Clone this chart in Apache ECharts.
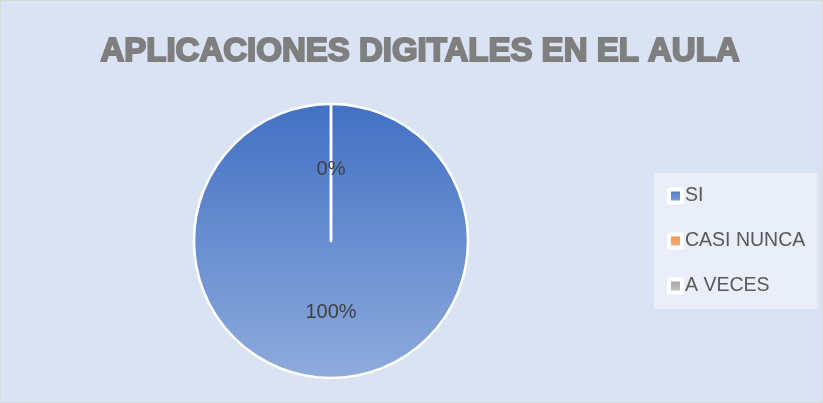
<!DOCTYPE html>
<html>
<head>
<meta charset="utf-8">
<script src="https://cdn.jsdelivr.net/npm/echarts@6/dist/echarts.min.js"></script>
<style>
  html, body { margin: 0; padding: 0; background: #ffffff; }
  #chart { width: 823px; height: 403px; box-sizing: border-box; border: 1px solid #d9d9d9; }
</style>
</head>
<body>
<div id="chart"></div>
<script>
const titleText = 'APLICACIONES DIGITALES EN EL AULA'
const categories = ['SI', 'CASI NUNCA', 'A VECES']
const values = [100, 0, 0]

const colors = [
  new echarts.graphic.LinearGradient(0, 0, 0, 1, [
    { offset: 0, color: '#4270c3' },
    { offset: 1, color: '#8fabdd' }
  ]),
  new echarts.graphic.LinearGradient(0, 0, 0, 1, [
    { offset: 0, color: '#f08a3c' },
    { offset: 1, color: '#f6b88c' }
  ]),
  new echarts.graphic.LinearGradient(0, 0, 0, 1, [
    { offset: 0, color: '#a0a0a0' },
    { offset: 1, color: '#c8c8c8' }
  ])
]

const chart = echarts.init(document.getElementById('chart'))

chart.setOption({
  backgroundColor: '#dae3f3',
  animation: false,
  title: {
    text: titleText,
    left: 414,
    textAlign: 'center',
    top: 29,
    padding: 5,
    textStyle: {
      fontFamily: 'Liberation Sans',
      fontSize: 33,
      fontWeight: 'bold',
      color: '#7f7f7f',
      textBorderColor: '#7f7f7f',
      textBorderWidth: 2
    }
  },
  legend: {
    orient: 'vertical',
    left: 653,
    top: 172,
    padding: [13, 12, 13, 13],
    itemGap: 25,
    backgroundColor: '#e9eef8',
    icon: 'rect',
    itemWidth: 13,
    itemHeight: 13,
    itemStyle: { borderColor: '#ffffff', borderWidth: 4 },
    textStyle: {
      fontFamily: 'Liberation Sans',
      fontSize: 19.5,
      color: '#595959',
      padding: [0, 0, 0, -2]
    },
    data: categories
  },
  series: [{
    type: 'pie',
    center: [330, 240],
    radius: 137,
    startAngle: 90,
    clockwise: true,
    avoidLabelOverlap: false,
    itemStyle: { borderColor: '#ffffff', borderWidth: 2.5 },
    label: {
      position: 'inside',
      formatter: '{d}%',
      fontFamily: 'Liberation Sans',
      fontSize: 20,
      color: '#404040'
    },
    labelLine: { show: false },
    emphasis: { disabled: true },
    data: categories.map((name, i) => ({
      name: name,
      value: values[i],
      itemStyle: { color: colors[i] }
    }))
  }]
})
</script>
</body>
</html>
